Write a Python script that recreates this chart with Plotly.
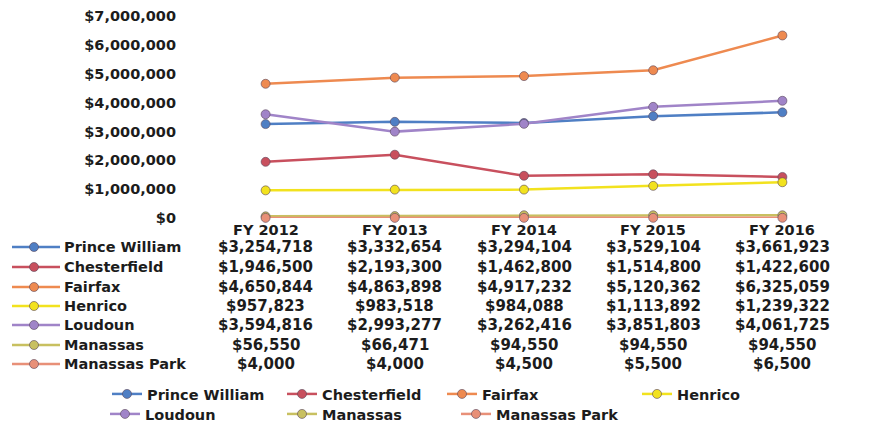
import plotly.graph_objects as go

years = ["FY 2012", "FY 2013", "FY 2014", "FY 2015", "FY 2016"]
counties = ["Prince William", "Chesterfield", "Fairfax", "Henrico",
            "Loudoun", "Manassas", "Manassas Park"]

prince_william = [3254718, 3332654, 3294104, 3529104, 3661923]
chesterfield = [1946500, 2193300, 1462800, 1514800, 1422600]
fairfax = [4650844, 4863898, 4917232, 5120362, 6325059]
henrico = [957823, 983518, 984088, 1113892, 1239322]
loudoun = [3594816, 2993277, 3262416, 3851803, 4061725]
manassas = [56550, 66471, 94550, 94550, 94550]
manassas_park = [4000, 4000, 4500, 5500, 6500]

series = [prince_william, chesterfield, fairfax, henrico,
          loudoun, manassas, manassas_park]
colors = ["#4f7fc4", "#c8505e", "#ee8a50", "#f2e21e",
          "#a084c8", "#c8c060", "#e89078"]

# page body has an 8px margin, so the figure is a little smaller
OFF = 8
W, H = 873 - OFF, 425 - OFF
L, R, T, B = 193, 26, 8, 207
PW, PH = W - L - R, H - T - B

def px_x(p):
    return (p - OFF - L) / PW

def px_y(p):
    return (H - B - (p - OFF)) / PH

FONT = dict(family="DejaVu Sans", size=14.5, color="#1c1c1c", weight="bold")
VFONT = dict(FONT, size=15)

# bottom legend: (window x of text start, window y of row centre)
legend_pos = [(148, 394), (323, 394), (483, 394), (678, 394),
              (146, 414), (323, 414), (497, 414)]

fig = go.Figure()
for i, (name, vals, c) in enumerate(zip(counties, series, colors)):
    fig.add_trace(go.Scatter(
        x=years, y=vals, name=name, mode="lines+markers",
        line=dict(color=c, width=2.5),
        marker=dict(symbol="circle", size=9, color=c,
                    line=dict(color="rgba(90,70,90,0.6)", width=1)),
        cliponaxis=False,
        legend="legend" if i == 0 else "legend%d" % (i + 1),
    ))

annotations = []
shapes = []
for yr in years:
    annotations.append(dict(x=yr, xref="x", y=px_y(230), yref="paper",
                            yanchor="middle", text=yr, showarrow=False,
                            font=FONT))

row_y = [247, 267, 287, 306, 325, 345, 364]
for name, vals, c, ry in zip(counties, series, colors, row_y):
    yp = px_y(ry)
    annotations.append(dict(x=px_x(62), xref="paper", y=yp, yref="paper",
                            text=name, showarrow=False, xanchor="left",
                            yanchor="middle", font=FONT))
    for yr, v in zip(years, vals):
        annotations.append(dict(x=yr, xref="x", y=yp, yref="paper",
                                text="${:,}".format(v), showarrow=False,
                                yanchor="middle", font=VFONT))
    shapes.append(dict(type="line", xref="paper", yref="paper",
                       x0=px_x(12), x1=px_x(60), y0=yp, y1=yp,
                       line=dict(color=c, width=2.5)))
    shapes.append(dict(type="circle", xref="paper", yref="paper",
                       xsizemode="pixel", ysizemode="pixel",
                       xanchor=px_x(34), yanchor=yp,
                       x0=-4.5, x1=4.5, y0=-4.5, y1=4.5,
                       fillcolor=c, line=dict(color="rgba(90,70,90,0.6)", width=1)))

legends = {}
for i, (tx, ty) in enumerate(legend_pos):
    key = "legend" if i == 0 else "legend%d" % (i + 1)
    legends[key] = dict(orientation="h", xref="container", yref="container",
                        x=(tx - 41 - OFF) / W, y=1 - (ty - 16 - OFF) / H,
                        xanchor="left", yanchor="top", font=FONT,
                        bgcolor="rgba(0,0,0,0)")

fig.update_layout(
    width=W, height=H,
    margin=dict(l=L, r=R, t=T, b=B, autoexpand=False),
    paper_bgcolor="white", plot_bgcolor="white",
    font=FONT,
    showlegend=True,
    annotations=annotations,
    shapes=shapes,
    **legends,
)
fig.update_xaxes(showgrid=False, showline=False, zeroline=False,
                 showticklabels=False, range=[-0.5, 4.5])
fig.update_yaxes(range=[0, 7000000], dtick=1000000, tickformat="$,.0f",
                 showgrid=False, showline=False, zeroline=False,
                 tickfont=FONT, ticklabelstandoff=24)

fig.write_html("out.html")
